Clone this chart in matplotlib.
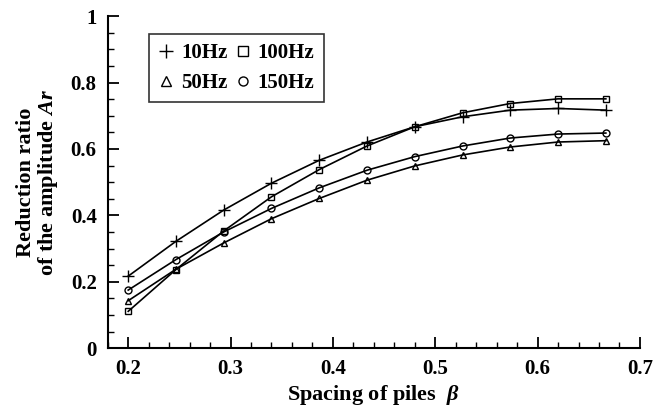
import matplotlib
matplotlib.use('Agg')
import matplotlib.pyplot as plt
from matplotlib.ticker import MultipleLocator, FuncFormatter

plt.rcParams['font.family'] = 'Liberation Serif'
plt.rcParams['font.weight'] = 'bold'
plt.rcParams['mathtext.fontset'] = 'custom'
plt.rcParams['mathtext.rm'] = 'Liberation Serif:bold'
plt.rcParams['mathtext.it'] = 'Liberation Serif:italic:bold'
plt.rcParams['mathtext.bf'] = 'Liberation Serif:bold'

# spacing of piles (beta)
spacing = [0.2, 0.2467, 0.2933, 0.34, 0.3867, 0.4333, 0.48, 0.5267, 0.5733, 0.62, 0.6667]

# reduction ratio of the amplitude Ar
ar_10hz = [0.217, 0.322, 0.416, 0.497, 0.566, 0.621, 0.667, 0.697, 0.717, 0.722, 0.717]
ar_50hz = [0.143, 0.238, 0.317, 0.390, 0.451, 0.506, 0.549, 0.582, 0.606, 0.621, 0.625]
ar_100hz = [0.111, 0.237, 0.353, 0.456, 0.538, 0.609, 0.667, 0.709, 0.737, 0.751, 0.751]
ar_150hz = [0.175, 0.267, 0.350, 0.421, 0.483, 0.536, 0.577, 0.609, 0.633, 0.645, 0.648]

series = [
    ('10Hz', ar_10hz, '+'),
    ('50Hz', ar_50hz, '^'),
    ('100Hz', ar_100hz, 's'),
    ('150Hz', ar_150hz, 'o'),
]

fig = plt.figure(figsize=(6.53, 4.15), dpi=100)
ax = fig.add_axes([0.165, 0.161, 0.815, 0.8])

for label, values, marker in series:
    ms = 8 if marker == '+' else 5
    ax.plot(spacing, values, color='black', linewidth=1.2, marker=marker,
            markersize=ms, markerfacecolor='none', markeredgecolor='black',
            markeredgewidth=1.0, label=label)

ax.set_xlim(0.18, 0.7)
ax.set_ylim(0, 1)

ax.xaxis.set_major_locator(MultipleLocator(0.1))
ax.xaxis.set_minor_locator(MultipleLocator(0.02))
ax.yaxis.set_major_locator(MultipleLocator(0.2))
ax.yaxis.set_minor_locator(MultipleLocator(0.05))
ax.yaxis.set_major_formatter(FuncFormatter(lambda v, p: f'{v:g}'))
ax.xaxis.set_major_formatter(FuncFormatter(lambda v, p: f'{v:g}'))

for side in ['top', 'right']:
    ax.spines[side].set_visible(False)
for side in ['left', 'bottom']:
    ax.spines[side].set_linewidth(1.5)

ax.tick_params(which='major', direction='in', length=8, width=1.3, labelsize=15, pad=8)
ax.tick_params(which='minor', direction='in', length=4, width=1.0)

ax.set_xlabel(r'Spacing of piles  $\mathit{\beta}$', fontsize=16, fontweight='bold', labelpad=3)
ax.set_ylabel('Reduction ratio\n' + r'of the amplitude $\mathit{Ar}$', fontsize=16,
              fontweight='bold', linespacing=1.0, labelpad=8)

leg = ax.legend(ncol=2, loc='upper left', bbox_to_anchor=(0.065, 0.965), frameon=True,
                fancybox=False, edgecolor='black', fontsize=15, handlelength=0.8,
                handletextpad=0.3, columnspacing=0.35, borderpad=0.45, labelspacing=0.45,
                markerscale=1.3, borderaxespad=0.3)
leg.get_frame().set_linewidth(1.2)
for h in leg.legend_handles:
    h.set_linestyle('none')

fig.savefig('out.png', dpi=100)
